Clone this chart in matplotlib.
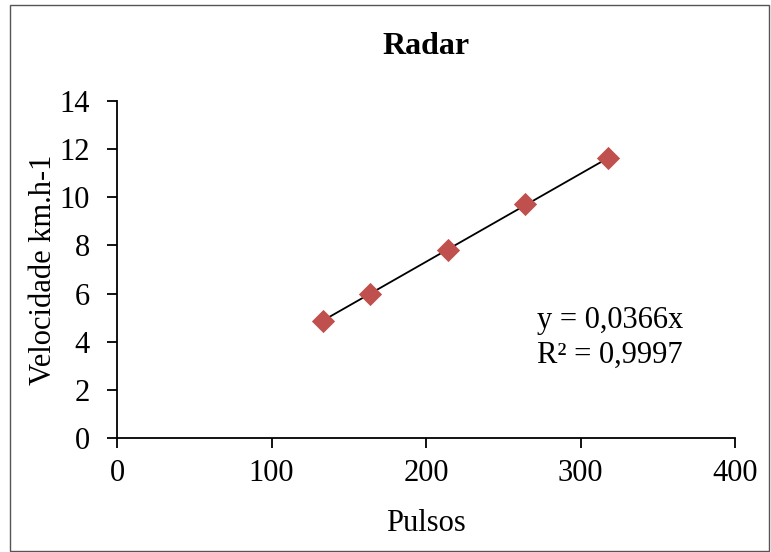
import matplotlib.pyplot as plt
import numpy as np
from matplotlib.patches import Rectangle

# dados
pulsos = [133, 164, 214, 264, 318]
velocidade = [4.86, 5.98, 7.81, 9.73, 11.62]
coef = 0.0366
r2 = "0,9997"

plt.rcParams['font.family'] = ['Liberation Serif', 'DejaVu Serif']

fig = plt.figure(figsize=(7.71, 5.52), dpi=100)
ax = fig.add_axes([0.1518, 0.2065, 0.8015, 0.6105])

# linha de tendência
xt = np.array([min(pulsos), max(pulsos)])
ax.plot(xt, coef * xt, color='black', lw=1.3, zorder=2)
ax.scatter(pulsos, velocidade, marker='D', s=140, color='#c0504d', zorder=3, linewidths=0)

ax.set_xlim(0, 400)
ax.set_ylim(0, 14)
ax.set_xticks(range(0, 401, 100))
ax.set_yticks(range(0, 15, 2))
for s in ['top', 'right']:
    ax.spines[s].set_visible(False)
for s in ['left', 'bottom']:
    ax.spines[s].set_linewidth(1.3)
ax.tick_params(direction='out', length=7, width=1.3, labelsize=22)
ax.tick_params(axis='y', pad=12.5)
ax.tick_params(axis='x', pad=8)
ax.set_xlabel('Pulsos', fontsize=22, labelpad=15)
ax.set_ylabel('Velocidade km.h-1', fontsize=22, labelpad=1)
ax.set_title('Radar', fontsize=23, fontweight='bold', pad=34)

ax.text(0.68, 0.298, 'y = 0,0366x\nR² = ' + r2, transform=ax.transAxes,
        fontsize=22, va='center', ha='left', linespacing=1.25)

fig.patches.append(Rectangle((10 / 771, 0.002), 0.985, 1 - 5 / 552 - 0.002,
                             transform=fig.transFigure, fill=False,
                             edgecolor='#555555', lw=1))

plt.savefig('out.png', dpi=100)
